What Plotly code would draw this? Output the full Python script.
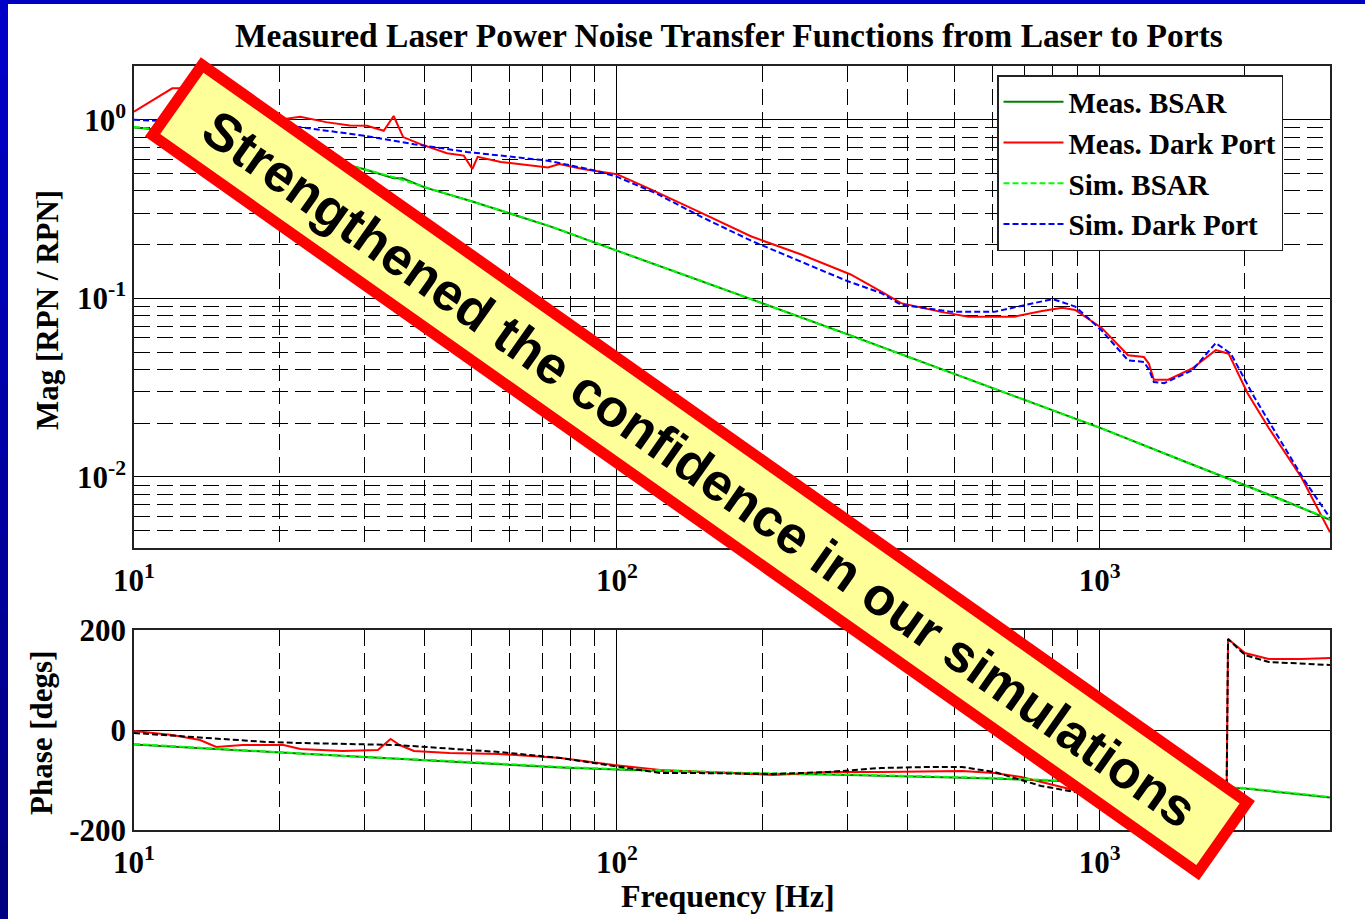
import plotly.graph_objects as go
import numpy as np

# ---------------- data ----------------
# Magnitude: Meas. BSAR
f_mb = [10, 12, 15, 18, 21, 25.9, 30, 33, 34.5, 36, 40, 50, 60, 73, 100, 150, 200, 300, 388, 500, 700, 1009, 1500, 1900, 2400, 3000]
m_mb = [0.905, 0.865, 0.80, 0.73, 0.665, 0.585, 0.528, 0.49, 0.47, 0.47, 0.418, 0.35, 0.30, 0.252, 0.185, 0.125, 0.094, 0.063, 0.0487, 0.038, 0.027, 0.0187, 0.0122, 0.0095, 0.0074, 0.00575]
# Magnitude: Meas. Dark Port
f_md = [10, 11, 12, 13, 15, 18, 20, 22.1, 25, 28, 30.4, 32.9, 34.5, 36.1, 39.2, 44.5, 48.2, 50.2, 51.5, 57.5, 72, 76, 85, 100, 117, 150, 190, 241, 305, 353, 388, 469, 535, 666, 760, 837, 890, 1010, 1145, 1235, 1265, 1295, 1387, 1555, 1740, 1850, 2025, 2240, 2620, 3000]
m_md = [1.11, 1.3, 1.5, 1.5, 1.3, 1.1, 1.0, 1.04, 0.97, 0.93, 0.925, 0.867, 1.05, 0.80, 0.73, 0.65, 0.63, 0.53, 0.62, 0.58, 0.54, 0.565, 0.53, 0.496, 0.41, 0.30, 0.222, 0.176, 0.136, 0.109, 0.094, 0.084, 0.079, 0.079, 0.085, 0.0885, 0.086, 0.0683, 0.048, 0.047, 0.043, 0.035, 0.035, 0.0405, 0.0513, 0.049, 0.0294, 0.0188, 0.0099, 0.0049]
# Magnitude: Sim. BSAR
f_sb = [10, 12, 15, 18, 21, 25.9, 30, 34.5, 40, 50, 60, 73, 100, 150, 200, 300, 388, 500, 700, 1009, 1500, 1900, 2400, 3000]
m_sb = [0.91, 0.87, 0.80, 0.73, 0.67, 0.587, 0.53, 0.477, 0.42, 0.35, 0.30, 0.253, 0.185, 0.125, 0.094, 0.063, 0.0487, 0.038, 0.027, 0.0187, 0.0122, 0.0095, 0.0074, 0.0058]
# Magnitude: Sim. Dark Port
f_sd = [10, 12, 15, 18, 22, 30.4, 38, 49, 72, 90, 100, 120, 150, 190, 241, 300, 353, 388, 494, 605, 730, 800, 890, 1010, 1145, 1235, 1265, 1295, 1360, 1555, 1740, 1870, 2090, 2345, 2660, 3000]
m_sd = [1.0, 0.98, 0.95, 0.93, 0.91, 0.81, 0.73, 0.66, 0.59, 0.52, 0.48, 0.39, 0.285, 0.21, 0.16, 0.125, 0.107, 0.092, 0.084, 0.084, 0.094, 0.099, 0.090, 0.066, 0.045, 0.044, 0.040, 0.034, 0.0335, 0.0395, 0.0562, 0.049, 0.028, 0.0166, 0.0095, 0.0059]

# Phase: Meas. BSAR / Sim. BSAR
f_pb = [10, 15, 22, 30, 50, 76.5, 100, 187, 274, 444, 605, 688, 1000, 1500, 2000, 3000]
p_mb = [-29, -39, -47, -54, -65, -75, -79, -87, -89, -93, -97, -99, -105, -111, -117, -135]
p_sb = [-28, -38, -46, -54, -64, -74, -78, -86, -88, -92, -96, -98, -104, -110, -116, -134]
# Phase: Meas. Dark Port
f_pd = [10, 11, 12, 13.7, 14.8, 16.8, 20.4, 22.1, 27, 32, 34, 35.5, 38, 45, 57, 76.5, 98.6, 123, 187, 211, 274, 352, 519, 605, 688, 757, 890, 1000, 1300, 1600, 1830, 1845, 2000, 2240, 2620, 3000]
p_pd = [-2, -6, -10, -20, -34, -30, -30, -38, -42, -40, -18, -30, -42, -46, -48, -56, -70, -80, -88, -90, -84, -84, -82, -86, -94, -104, -120, -132, -160, -172, -178, 182, 154, 142, 142, 144]
# Phase: Sim. Dark Port
f_ps = [10, 11.7, 14.2, 18.9, 22, 35, 57, 76.5, 89.6, 123, 144, 211, 274, 352, 444, 519, 605, 757, 890, 1000, 1300, 1600, 1830, 1845, 2000, 2240, 2620, 3000]
p_ps = [-6, -10, -16, -24, -26, -30, -44, -56, -66, -86, -86, -88, -84, -76, -74, -74, -84, -112, -124, -134, -158, -172, -178, 182, 150, 136, 132, 130]

x_tickvals = [10, 100, 1000]
x_ticktext = ["10<sup>1</sup>", "10<sup>2</sup>", "10<sup>3</sup>"]
x_minor = [20, 30, 40, 50, 60, 70, 80, 90, 200, 300, 400, 500, 600, 700, 800, 900, 2000, 3000]
y_tickvals = [0.01, 0.1, 1]
y_ticktext = ["10<sup>-2</sup>", "10<sup>-1</sup>", "10<sup>0</sup>"]
y_minor = [0.004, 0.005, 0.006, 0.007, 0.008, 0.009, 0.02, 0.03, 0.04, 0.05, 0.06, 0.07, 0.08, 0.09,
           0.2, 0.3, 0.4, 0.5, 0.6, 0.7, 0.8, 0.9]
p_tickvals = [-200, 0, 200]
p_ticktext = ["-200", "0", "200"]

TITLE = "Measured Laser Power Noise Transfer Functions from Laser to Ports"
BANNER = "Strengthened the confidence in our simulations"

# ---------------- layout geometry ----------------
WIDTH, HEIGHT = 1365, 919
L, R, T, B = 134, 1330, 66, 830
PW, PH = R - L, B - T
def px(x):
    return (x - L) / PW
def py(y):
    return (B - y) / PH

SERIF = "Liberation Serif, Times New Roman, serif"
SANS = "Liberation Sans, Arial, sans-serif"
DASH = "16px,7px"

fig = go.Figure()
lw = 2
fig.add_trace(go.Scatter(x=f_mb, y=m_mb, name="Meas. BSAR", mode="lines",
                         line=dict(color="#008000", width=lw), xaxis="x", yaxis="y"))
fig.add_trace(go.Scatter(x=f_md, y=m_md, name="Meas. Dark Port", mode="lines",
                         line=dict(color="#FF0000", width=lw), xaxis="x", yaxis="y"))
fig.add_trace(go.Scatter(x=f_sb, y=m_sb, name="Sim. BSAR", mode="lines",
                         line=dict(color="#00FF00", width=lw, dash="6px,3px"), xaxis="x", yaxis="y"))
fig.add_trace(go.Scatter(x=f_sd, y=m_sd, name="Sim. Dark Port", mode="lines",
                         line=dict(color="#0000FF", width=lw, dash="6px,3px"), xaxis="x", yaxis="y"))

fig.add_trace(go.Scatter(x=f_pb, y=p_mb, showlegend=False, mode="lines",
                         line=dict(color="#008000", width=lw), xaxis="x2", yaxis="y2"))
fig.add_trace(go.Scatter(x=f_pd, y=p_pd, showlegend=False, mode="lines",
                         line=dict(color="#FF0000", width=lw), xaxis="x2", yaxis="y2"))
fig.add_trace(go.Scatter(x=f_pb, y=p_sb, showlegend=False, mode="lines",
                         line=dict(color="#00FF00", width=lw, dash="6px,3px"), xaxis="x2", yaxis="y2"))
fig.add_trace(go.Scatter(x=f_ps, y=p_ps, showlegend=False, mode="lines",
                         line=dict(color="#000000", width=lw, dash="6px,3px"), xaxis="x2", yaxis="y2"))

tickfont = dict(family=SERIF, size=31, color="black", weight="bold")

def xaxis_cfg(anchor):
    return dict(type="log", range=[np.log10(10), np.log10(3000)], anchor=anchor,
                tickmode="array", tickvals=x_tickvals, ticktext=x_ticktext,
                showgrid=True, gridcolor="black", gridwidth=1,
                minor=dict(tickmode="array", tickvals=x_minor, showgrid=True,
                           gridcolor="black", gridwidth=1, griddash=DASH, ticks=""),
                showline=True, mirror=True, linecolor="#222", linewidth=1.5,
                ticks="", zeroline=False, tickfont=tickfont, ticklabelstandoff=4)

mag_dom = [py(548), 1]
ph_dom = [0, py(630)]

fig.update_layout(
    width=WIDTH, height=HEIGHT,
    margin=dict(l=L, r=WIDTH - R, t=T, b=HEIGHT - B, autoexpand=False),
    paper_bgcolor="white", plot_bgcolor="white",
    showlegend=True,
    xaxis=xaxis_cfg("y"),
    xaxis2=xaxis_cfg("y2"),
    yaxis=dict(type="log", range=[np.log10(0.004), np.log10(2)], domain=mag_dom,
               tickmode="array", tickvals=y_tickvals, ticktext=y_ticktext,
               showgrid=True, gridcolor="black", gridwidth=1,
               minor=dict(tickmode="array", tickvals=y_minor, showgrid=True,
                          gridcolor="black", gridwidth=1, griddash=DASH, ticks=""),
               showline=True, mirror=True, linecolor="#222", linewidth=1.5,
               ticks="", zeroline=False, tickfont=tickfont),
    yaxis2=dict(range=[-200, 200], domain=ph_dom,
                tickmode="array", tickvals=p_tickvals, ticktext=p_ticktext,
                showgrid=True, gridcolor="black", gridwidth=1,
                showline=True, mirror=True, linecolor="#222", linewidth=1.5,
                ticks="", zeroline=False, tickfont=tickfont),
    legend=dict(x=px(997), y=py(75), xanchor="left", yanchor="top",
                bgcolor="white", bordercolor="#222", borderwidth=1.5,
                font=dict(family=SERIF, size=29, color="black", weight="bold"),
                tracegroupgap=0, itemwidth=60),
)

# blue frame strips (slide background)
shapes = [dict(type="rect", xref="paper", yref="paper", x0=px(0), x1=px(WIDTH), y0=py(4), y1=py(-2),
               fillcolor="#0000C0", line=dict(width=0), layer="above")]
nseg = 12
for i in range(nseg):
    y0p = i * HEIGHT / nseg
    y1p = (i + 1) * HEIGHT / nseg
    c = int(200 - 70 * i / (nseg - 1))
    shapes.append(dict(type="rect", xref="paper", yref="paper", x0=px(-2), x1=px(8),
                       y0=py(y1p + 1), y1=py(y0p), fillcolor=f"rgb(0,0,{c})",
                       line=dict(width=0), layer="above"))
fig.update_layout(shapes=shapes)

annotations = [
    dict(text=TITLE, x=px(729), y=py(35), xref="paper", yref="paper", showarrow=False,
         xanchor="center", yanchor="middle",
         font=dict(family=SERIF, size=33.5, color="black", weight="bold")),
    dict(text="Mag [RPN / RPN]", x=px(47), y=py(310), xref="paper", yref="paper", showarrow=False,
         textangle=-90, xanchor="center", yanchor="middle",
         font=dict(family=SERIF, size=31, color="black", weight="bold")),
    dict(text="Phase [degs]", x=px(41), y=py(733), xref="paper", yref="paper", showarrow=False,
         textangle=-90, xanchor="center", yanchor="middle",
         font=dict(family=SERIF, size=31, color="black", weight="bold")),
    dict(text="Frequency [Hz]", x=px(728), y=py(896), xref="paper", yref="paper", showarrow=False,
         xanchor="center", yanchor="middle",
         font=dict(family=SERIF, size=32, color="black", weight="bold")),
    dict(text=BANNER, x=px(699.5), y=py(468.5), xref="paper", yref="paper", showarrow=False,
         xanchor="center", yanchor="middle", textangle=35.2,
         width=1262, height=69, borderpad=3, borderwidth=11,
         bgcolor="#FFFF99", bordercolor="#FF0000",
         font=dict(family=SANS, size=53, color="black", weight="bold")),
]
fig.update_layout(annotations=annotations)

fig.write_html("out.html")
